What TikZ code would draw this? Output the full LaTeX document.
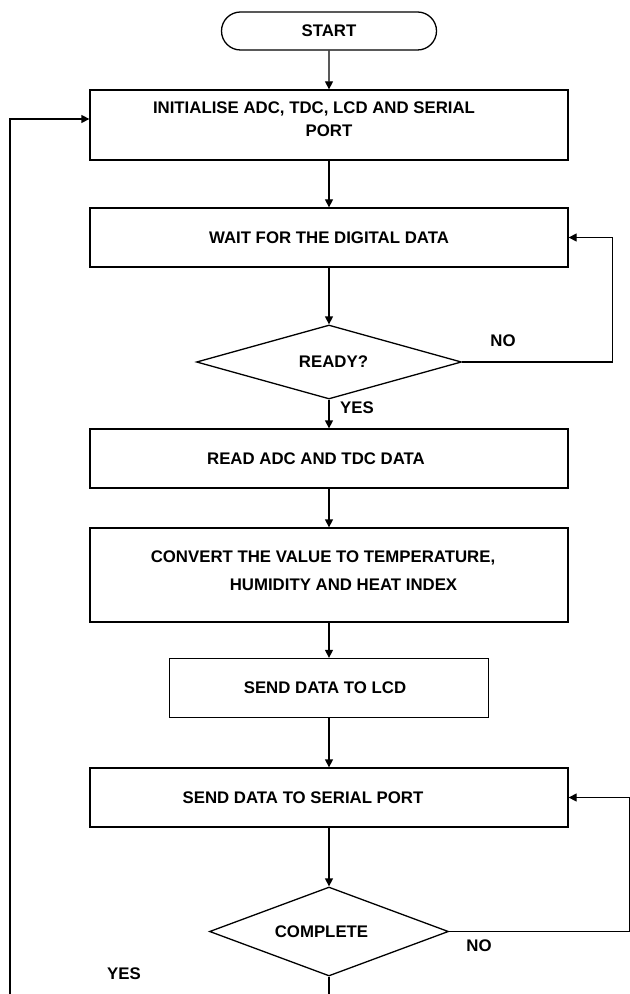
\documentclass[tikz,border=0pt]{standalone}
\usepackage{fontspec}
\setmainfont{Liberation Sans}
\usepackage{tikz}
\usetikzlibrary{shapes.geometric, shapes.misc, arrows.meta}

\tikzset{
  boxtext/.style={font=\bfseries\fontsize{8.4}{11.5}\selectfont},
  termbox/.style={boxtext, draw, line width=0.65pt, rounded rectangle, inner sep=0pt,
                  minimum width=107.5pt, minimum height=19pt},
  procbox/.style={boxtext, draw, line width=0.65pt, rectangle, inner sep=0pt,
                  minimum width=239pt, minimum height=29.5pt},
  askbox/.style={boxtext, draw, line width=0.65pt, diamond, inner sep=0pt},
  lbl/.style={boxtext, inner sep=0pt},
  flow/.style={line width=0.65pt, -{Triangle[length=4pt,width=4pt]}}
}

\begin{document}
\begin{tikzpicture}[x=0.5pt, y=-0.5pt]
\useasboundingbox (0,0) rectangle (629,994);
%
\node[termbox] (start) at (329,31) {START};
\node[procbox, minimum height=35pt, align=center, text depth=5.5pt] (init) at (329,125)
     {INITIALISE ADC, TDC, LCD AND SERIAL\hspace*{15pt}\\PORT};
\node[procbox] (wait) at (329,237.5) {WAIT FOR THE DIGITAL DATA};
\node[askbox, aspect=3.6, minimum width=132.5pt, minimum height=37pt] (ready) at (329,362)
     {\hspace*{4.5pt}READY?};
\node[procbox] (read) at (329,458.5) {READ ADC AND TDC DATA\hspace*{13pt}};
\node[procbox, minimum height=47pt, align=left, text depth=4pt] (convert) at (329,575)
     {CONVERT THE VALUE TO TEMPERATURE,\hspace*{6pt}\\[2.5pt]\hspace*{39.5pt}HUMIDITY AND HEAT INDEX};
\node[procbox, minimum width=159.5pt] (lcd) at (329,688) {SEND DATA TO LCD\hspace*{4pt}};
\node[procbox] (serial) at (329,797.5) {SEND DATA TO SERIAL PORT\hspace*{26pt}};
\node[askbox, aspect=2.7, minimum width=119.5pt, minimum height=44.5pt] (complete) at (329,931.5)
     {COMPLETE\hspace*{7.5pt}};
%
\node[lbl] (readyno) at (503,341) {NO};
\node[lbl] (readyyes) at (357,408) {YES};
\node[lbl] (completeno) at (479,946) {NO};
\node[lbl] (completeyes) at (124,974) {YES};
%
\coordinate (yesend) at (10,994);
\coordinate (downend) at (329,994);

\draw[flow] (start) -- (init);
\draw[flow] (init) -- (wait);
\draw[flow] (wait) -- (ready);
\draw[flow] (ready) -- (read);
\draw[flow] (read) -- (convert);
\draw[flow] (convert) -- (lcd);
\draw[flow] (lcd) -- (serial);
\draw[flow] (serial) -- (complete);
\draw[line width=0.65pt] (complete.south) -- (downend);
%
\draw[flow] (ready.east) -- ++(150,0) |- (wait.east);
\draw[flow] (complete.east) -- ++(180,0) |- (serial.east);
\draw[flow] (yesend) |- ([yshift=3pt]init.west);
%
\end{tikzpicture}
\end{document}
